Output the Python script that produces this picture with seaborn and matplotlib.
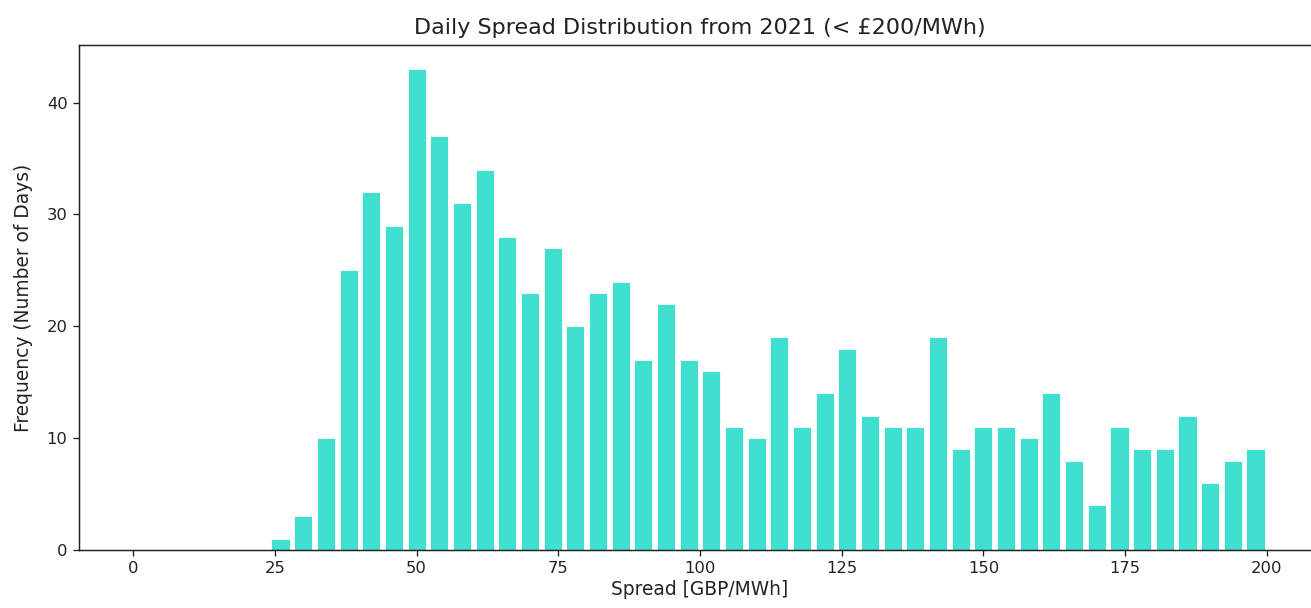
import numpy as np
import pandas as pd
import seaborn as sns
import matplotlib
matplotlib.use("Agg")
import matplotlib.pyplot as plt

# Bin edges (GBP/MWh), bin width 4 from 0 to 200
bin_edges = list(range(0, 204, 4))
# Bins with data start at 24 GBP/MWh
bin_starts = list(range(24, 200, 4))
counts = [1, 3, 10, 25, 32, 29, 43, 37, 31, 34,
          28, 23, 27, 20, 23, 24, 17, 22, 17, 16,
          11, 10, 19, 11, 14, 18, 12, 11, 11, 19,
          9, 11, 11, 10, 14, 8, 4, 11, 9, 9,
          12, 6, 8, 9]

df = pd.DataFrame({"spread": [b + 2 for b in bin_starts], "count": counts})

sns.set_style("ticks")
plt.rcParams['font.family'] = ['DejaVu Sans']
plt.rcParams['text.color'] = '#222222'
plt.rcParams['axes.labelcolor'] = '#222222'

DPI = 118
fig = plt.figure(figsize=(1311 / DPI, 608 / DPI), dpi=DPI)
ax = fig.add_axes([79 / 1311, 58 / 608, 1242 / 1311, 505 / 608])

sns.histplot(data=df, x="spread", weights="count", bins=bin_edges,
             shrink=0.8, color="#40E0D0", alpha=1, edgecolor="white",
             linewidth=0.5, ax=ax)

for s in ax.spines.values():
    s.set_visible(True)
    s.set_linewidth(0.9)
    s.set_color("#222222")
ax.tick_params(labelsize=10, colors="#222222", length=3.5, width=0.8)
ax.set_xticks([0, 25, 50, 75, 100, 125, 150, 175, 200])
ax.set_xlabel("Spread [GBP/MWh]", fontsize=11.4, labelpad=2)
ax.set_ylabel("Frequency (Number of Days)", fontsize=11.4, labelpad=8)
ax.set_title("Daily Spread Distribution from 2021 (< £200/MWh)", fontsize=13.6, pad=7)
ax.grid(False)

fig.savefig("out.png", dpi=DPI)
